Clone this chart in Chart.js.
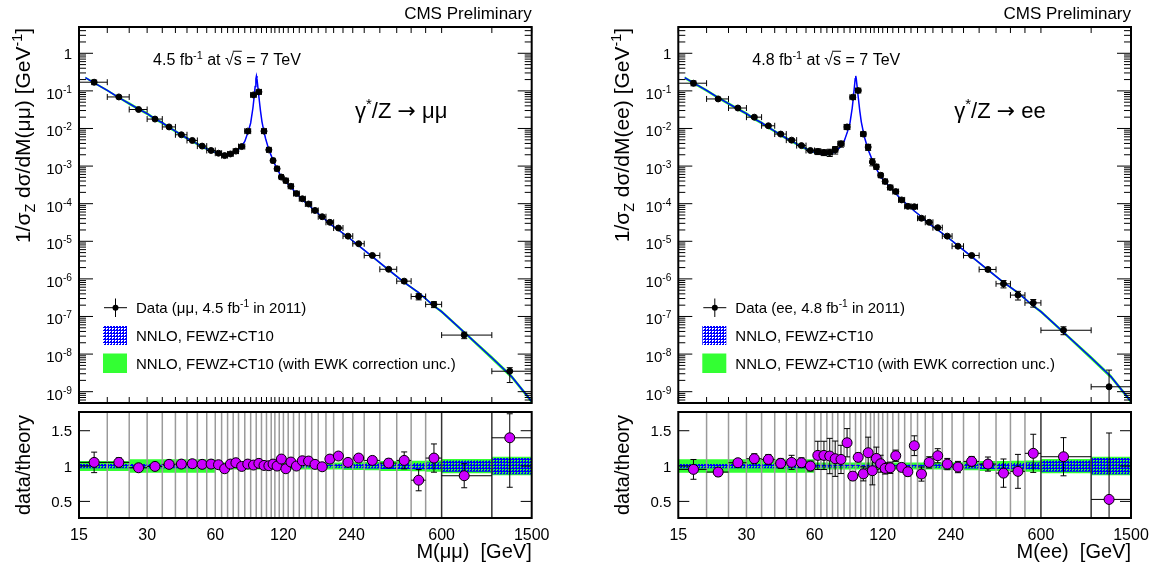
<!DOCTYPE html>
<html lang="en">
<head>
<meta charset="UTF-8">
<title>Drell-Yan mass spectrum, CMS 2011</title>
<script src="https://cdn.jsdelivr.net/npm/chart.js"></script>
<style>
  body { margin: 0; background: #fff; }
  #wrap { position: relative; width: 1158px; height: 570px; }
  #wrap canvas { position: absolute; left: 0; top: 0; }
</style>
</head>
<body>
<div id="wrap">
  <canvas id="muTop" width="1158" height="570"></canvas>
  <canvas id="muRatio" width="1158" height="570"></canvas>
  <canvas id="eeTop" width="1158" height="570"></canvas>
  <canvas id="eeRatio" width="1158" height="570"></canvas>
</div>
<script>
// mass bins (GeV) and where the points sit inside them
const binEdges = [15, 20, 25, 30, 35, 40, 45, 50, 55, 60, 64, 68, 72, 76, 81, 86, 91, 96, 101, 106, 110,
  115, 120, 126, 133, 141, 150, 160, 171, 185, 200, 220, 243, 273, 320, 380, 440, 510, 600, 1000, 1500];
const binMass = [17.5, 22.5, 27.5, 32.5, 37.5, 42.5, 47.5, 52.5, 57.5, 62, 66, 70, 74, 78.5, 83.5, 88.5, 93.5,
  98.5, 103.5, 108, 112.5, 117.5, 123, 129.5, 137, 145.5, 155, 165.5, 178, 192.5, 210, 231.5, 258, 296.5,
  350, 410, 475, 555, 755, 1200];

// NNLO FEWZ+CT10 curve
const theoryMass = [16, 17.5, 20, 22.5, 25, 27.5, 30, 32.5, 35, 37.5, 40, 42.5, 45, 47.5, 50, 52.5, 55, 57.5,
  60, 62, 66, 70, 74, 78, 81, 84, 86, 88, 89, 90, 90.7, 91.2, 91.7, 92.5, 93.5, 95, 96.5, 98, 100, 103.5,
  106, 108, 112.5, 117.5, 123, 129.5, 137, 145.5, 155, 165.5, 178, 192.5, 210, 231.5, 258, 296.5, 350,
  410, 475, 555, 600, 755, 1000, 1225, 1500];
const theoryValue = [0.225, 0.163, 0.103, 0.066, 0.046, 0.033, 0.025, 0.018, 0.0142, 0.0107, 0.0085, 0.0067,
  0.0055, 0.0046, 0.0039, 0.0033, 0.0029, 0.0025, 0.00232, 0.00215, 0.002, 0.00205, 0.0024, 0.0032, 0.0045,
  0.0085, 0.014, 0.035, 0.065, 0.13, 0.21, 0.25, 0.21, 0.13, 0.07, 0.03, 0.015, 0.0095, 0.0055, 0.0027,
  0.0019, 0.0014, 8.5e-4, 5.2e-4, 3.8e-4, 2.75e-4, 1.86e-4, 1.26e-4, 9.2e-5, 6.4e-5, 4.5e-5, 2.9e-5, 2.0e-5,
  1.3e-5, 7.7e-6, 3.9e-6, 1.73e-6, 8.1e-7, 4.3e-7, 1.9e-7, 1.35e-7, 3.8e-8, 8e-9, 2.5e-9, 5.5e-10];

// dimuon channel
const muData = [0.17, 0.069, 0.032, 0.0178, 0.011, 0.0068, 0.0048, 0.0034, 0.0026, 0.0022, 0.0019, 0.0021,
  0.0025, 0.0033, 0.0085, 0.078, 0.094, 0.0085, 0.0027, 0.0014, 8.5e-4, 5.1e-4, 4.1e-4, 2.9e-4, 1.86e-4,
  1.35e-4, 9.8e-5, 6.6e-5, 4.5e-5, 3.2e-5, 2.25e-5, 1.37e-5, 8.6e-6, 4.2e-6, 1.8e-6, 8.7e-7, 3.4e-7,
  2.1e-7, 3.2e-8, 3.5e-9];
const muRatio = [1.052, 1.052, 0.976, 0.995, 1.024, 1.028, 1.033, 1.024, 1.028, 1.019, 0.962, 1.028, 1.047,
  0.995, 1.028, 1.014, 1.038, 1.009, 1.005, 1.028, 1.0, 1.099, 0.962, 1.057, 1.0, 1.075, 1.071, 1.024, 0.99,
  1.099, 1.142, 1.052, 1.113, 1.08, 1.042, 1.08, 0.80, 1.113, 0.863, 1.40];
const muErrUp = [0.145, 0.065, 0.03, 0.025, 0.02, 0.02, 0.02, 0.02, 0.02, 0.02, 0.02, 0.02, 0.02, 0.02, 0.02,
  0.02, 0.02, 0.02, 0.02, 0.02, 0.02, 0.025, 0.025, 0.025, 0.025, 0.025, 0.03, 0.03, 0.03, 0.035, 0.04,
  0.05, 0.05, 0.05, 0.06, 0.12, 0.15, 0.2, 0.17, 0.34];
const muErrDown = [0.145, 0.065, 0.03, 0.025, 0.02, 0.02, 0.02, 0.02, 0.02, 0.02, 0.02, 0.02, 0.02, 0.02, 0.02,
  0.02, 0.02, 0.02, 0.02, 0.02, 0.02, 0.025, 0.025, 0.025, 0.025, 0.025, 0.03, 0.03, 0.03, 0.035, 0.04,
  0.05, 0.05, 0.05, 0.06, 0.12, 0.15, 0.2, 0.17, 0.70];
const muBandBlue = [0.03, 0.03, 0.03, 0.03, 0.03, 0.03, 0.03, 0.03, 0.03, 0.02, 0.02, 0.02, 0.02,
  0.02, 0.02, 0.02, 0.02, 0.02, 0.02, 0.02, 0.02, 0.02, 0.02, 0.02, 0.02, 0.02, 0.02, 0.02, 0.02, 0.02, 0.025,
  0.03, 0.03, 0.035, 0.04, 0.04, 0.045, 0.05, 0.08, 0.115];
const muBandGreen = [0.07, 0.07, 0.095, 0.095, 0.095, 0.095, 0.095, 0.095, 0.095, 0.05, 0.05, 0.05, 0.05,
  0.05, 0.05, 0.05, 0.05, 0.05, 0.05, 0.05, 0.05, 0.05, 0.05, 0.05, 0.05, 0.05, 0.05, 0.05,
  0.05, 0.05, 0.05, 0.055, 0.055, 0.06, 0.07, 0.07, 0.075, 0.08, 0.1, 0.13];

// dielectron channel
const eeData = [0.16, 0.061, 0.035, 0.020, 0.0118, 0.0071, 0.0049, 0.0035, 0.0026, 0.00245, 0.0023, 0.0023,
  0.0027, 0.0039, 0.011, 0.068, 0.102, 0.0071, 0.0032, 0.00129, 9.6e-4, 5.7e-4, 3.9e-4, 2.7e-4, 2.1e-4,
  1.26e-4, 8.5e-5, 8.3e-5, 4.1e-5, 3.2e-5, 2.3e-5, 1.37e-5, 7.4e-6, 4.2e-6, 1.78e-6, 7.4e-7, 3.7e-7,
  2.3e-7, 4.3e-8, 1.35e-9];
const eeRatio = [0.953, 0.915, 1.047, 1.104, 1.094, 1.038, 1.052, 1.047, 1.0, 1.151, 1.151, 1.142, 1.104,
  1.094, 1.33, 0.858, 1.123, 0.89, 1.189, 0.934, 1.108, 1.033, 0.967, 0.976, 1.146, 0.981, 0.92, 1.288,
  0.887, 1.052, 1.146, 1.028, 0.986, 1.066, 1.028, 0.90, 0.925, 1.18, 1.132, 0.528];
const eeErrUp = [0.14, 0.06, 0.04, 0.07, 0.07, 0.07, 0.1, 0.07, 0.07, 0.2, 0.2, 0.25, 0.25, 0.2, 0.2, 0.06,
  0.06, 0.1, 0.22, 0.2, 0.16, 0.12, 0.08, 0.08, 0.08, 0.05, 0.06, 0.14, 0.1, 0.08, 0.1, 0.08, 0.08, 0.07,
  0.1, 0.2, 0.24, 0.27, 0.27, 0.94];
const eeErrDown = eeErrUp;
const eeBandBlue = muBandBlue;
const eeBandGreen = [0.095, 0.095, 0.095, 0.095, 0.095, 0.095, 0.095, 0.095, 0.095, 0.05, 0.05, 0.05, 0.05,
  0.05, 0.05, 0.05, 0.05, 0.05, 0.05, 0.05, 0.05, 0.05, 0.05, 0.05, 0.05, 0.05, 0.05, 0.05, 0.05, 0.05, 0.05,
  0.055, 0.055, 0.06, 0.07, 0.07, 0.075, 0.08, 0.1, 0.13];

// axis labels
const xTickLabels = [15, 30, 60, 120, 240, 600, 1500];
const yExponents = [0, -1, -2, -3, -4, -5, -6, -7, -8, -9];
const ratioTicks = [0.5, 1, 1.5];

const FONT = '"Liberation Sans", Arial, Helvetica, sans-serif';
const SYMBOL_FONT = '"DejaVu Sans", sans-serif';
const GREEN = '#33ff33';
const MAGENTA = '#cc00ff';
Chart.defaults.font.family = FONT;

// blue grid with see-through holes, like ROOT fill style 3144-ish
function makeHatch() {
  const c = document.createElement('canvas');
  c.width = 6; c.height = 6;
  const g = c.getContext('2d');
  g.fillStyle = '#0000ff';
  for (let i = 0; i < 6; i++) {
    for (let j = 0; j < 6; j++) {
      if (i % 3 === 0 || j % 3 === 0 || (i % 3 === 2 && j % 3 === 2)) g.fillRect(i, j, 1, 1);
    }
  }
  return g.createPattern(c, 'repeat');
}
const HATCH = makeHatch();

// text with ^sup / _sub / ~overline / !symbol-font pieces
function rich(ctx, parts, x, y, size, align) {
  const seg = parts.map(p => {
    let mode = '';
    if ('^_~!'.includes(p[0]) && p.length > 1) { mode = p[0]; p = p.slice(1); }
    const fs = (mode === '^' || mode === '_') ? size * 0.68 : size;
    const font = fs + 'px ' + (mode === '!' ? SYMBOL_FONT : FONT);
    ctx.font = font;
    return { s: p, mode, font, w: ctx.measureText(p).width };
  });
  const total = seg.reduce((s, g) => s + g.w, 0);
  let cx = align === 'center' ? x - total / 2 : align === 'right' ? x - total : x;
  ctx.textAlign = 'left';
  ctx.textBaseline = 'alphabetic';
  seg.forEach(g => {
    ctx.font = g.font;
    const dy = g.mode === '^' ? -size * 0.4 : g.mode === '_' ? size * 0.22 : 0;
    ctx.fillText(g.s, cx, y + dy);
    if (g.mode === '~') {
      ctx.lineWidth = 1;
      ctx.beginPath();
      ctx.moveTo(cx - 1, y - size * 0.86);
      ctx.lineTo(cx + g.w, y - size * 0.86);
      ctx.stroke();
    }
    cx += g.w;
  });
}

function line(ctx, x1, y1, x2, y2) {
  ctx.beginPath(); ctx.moveTo(x1, y1); ctx.lineTo(x2, y2); ctx.stroke();
}

function binIndex(m) {
  for (let i = 0; i < binEdges.length - 1; i++) if (m < binEdges[i + 1]) return i;
  return binEdges.length - 2;
}

function stepBand(center, widths, sign) {
  const pts = [];
  widths.forEach((w, i) => {
    pts.push({ x: binEdges[i], y: center + sign * w });
    pts.push({ x: binEdges[i + 1], y: center + sign * w });
  });
  return pts;
}

function drawBars(chart, ds, caps) {
  const { ctx, chartArea: a, scales: { x, y } } = chart;
  ctx.save();
  ctx.beginPath();
  ctx.rect(a.left, a.top, a.right - a.left, a.bottom - a.top);
  ctx.clip();
  ctx.strokeStyle = '#000';
  ctx.lineWidth = 1;
  ds.data.forEach((p, i) => {
    const px = x.getPixelForValue(p.x), py = y.getPixelForValue(p.y);
    const xl = x.getPixelForValue(binEdges[i]), xr = x.getPixelForValue(binEdges[i + 1]);
    const yt = y.getPixelForValue(p.y + ds.errUp[i]);
    const low = p.y - ds.errDown[i];
    const yb = low > 0 || y.type !== 'logarithmic' ? y.getPixelForValue(low) : a.bottom + 50;
    line(ctx, xl, py, xr, py);
    line(ctx, px, yt, px, yb);
    line(ctx, px - 3, yt, px + 3, yt);
    line(ctx, px - 3, yb, px + 3, yb);
    if (caps) {
      line(ctx, xl, py - 3, xl, py + 3);
      line(ctx, xr, py - 3, xr, py + 3);
    }
  });
  ctx.restore();
}

function baseOptions(pad, yScale) {
  return {
    responsive: false,
    animation: false,
    events: [],
    layout: { padding: pad },
    plugins: { legend: { display: false }, tooltip: { enabled: false } },
    scales: {
      x: { type: 'logarithmic', min: 15, max: 1500, bounds: 'data', display: false },
      y: Object.assign({ bounds: 'data', display: false }, yScale)
    }
  };
}

function topDecor(cfg) {
  return {
    id: 'topDecor',
    beforeDatasetDraw(chart, args) {
      if (args.index === 0) drawBars(chart, chart.data.datasets[0], true);
    },
    afterDraw(chart) {
      const { ctx, chartArea: a, scales: { x, y } } = chart;
      ctx.save();
      ctx.strokeStyle = '#000';
      ctx.fillStyle = '#000';
      ctx.lineWidth = 1;
      for (let e = -10; e <= 0; e++) {
        for (let k = 1; k <= 9; k++) {
          const v = k * Math.pow(10, e);
          if (v < y.min || v > y.max) continue;
          const py = y.getPixelForValue(v), len = k === 1 ? 14 : 7;
          line(ctx, a.left, py, a.left + len, py);
          line(ctx, a.right - len, py, a.right, py);
        }
      }
      binEdges.forEach(e => {
        const px = x.getPixelForValue(e);
        line(ctx, px, a.top, px, a.top + 6);
        line(ctx, px, a.bottom - 6, px, a.bottom);
      });
      ctx.lineWidth = 2;
      ctx.strokeRect(a.left, a.top, a.right - a.left, a.bottom - a.top);

      yExponents.forEach(e => {
        const py = y.getPixelForValue(Math.pow(10, e));
        if (e === 0) rich(ctx, ['1'], a.left - 7, py + 6, 15, 'right');
        else rich(ctx, ['10', '^' + e], a.left - 7, py + 8, 15, 'right');
      });

      ctx.save();
      ctx.translate(a.left - 49, a.top + 1);
      ctx.rotate(-Math.PI / 2);
      rich(ctx, cfg.yTitle, 0, 0, 21, 'right');
      ctx.restore();

      rich(ctx, ['CMS Preliminary'], a.right, 19, 17, 'right');
      rich(ctx, cfg.lumi, a.left + 148, 65, 16, 'center');
      rich(ctx, cfg.process, a.left + 276, 118, 22, 'left');

      // legend
      const L = a.left;
      ctx.lineWidth = 1;
      line(ctx, L + 25, 307.7, L + 48, 307.7);
      line(ctx, L + 36.5, 298.5, L + 36.5, 317);
      ctx.beginPath();
      ctx.arc(L + 36.5, 307.7, 3, 0, Math.PI * 2);
      ctx.fill();
      rich(ctx, cfg.legend[0], L + 57, 313, 15, 'left');
      ctx.fillStyle = HATCH;
      ctx.fillRect(L + 24, 326, 24, 19);
      ctx.fillStyle = '#000';
      rich(ctx, cfg.legend[1], L + 57, 341, 15, 'left');
      ctx.fillStyle = GREEN;
      ctx.fillRect(L + 24, 353.5, 24, 19.5);
      ctx.fillStyle = '#000';
      rich(ctx, cfg.legend[2], L + 57, 368.5, 15, 'left');
      ctx.restore();
    }
  };
}

function ratioDecor(cfg) {
  return {
    id: 'ratioDecor',
    beforeDatasetDraw(chart, args) {
      if (args.index !== 0) return;
      const { ctx, chartArea: a, scales: { x } } = chart;
      ctx.save();
      ctx.lineWidth = 1.5;
      binEdges.slice(1, -1).forEach(e => {
        const px = x.getPixelForValue(e);
        ctx.strokeStyle = e >= 600 ? '#333' : '#9a9a9a';
        line(ctx, px, a.top, px, a.bottom);
      });
      ctx.restore();
      drawBars(chart, chart.data.datasets[0], false);
    },
    afterDraw(chart) {
      const { ctx, chartArea: a, scales: { x, y } } = chart;
      ctx.save();
      ctx.strokeStyle = '#000';
      ctx.fillStyle = '#000';
      ctx.lineWidth = 1;
      ratioTicks.forEach(v => {
        const py = y.getPixelForValue(v);
        line(ctx, a.left, py, a.left + 11, py);
        line(ctx, a.right - 11, py, a.right, py);
        rich(ctx, [String(v)], a.left - 7, py + 5.5, 15, 'right');
      });
      ctx.lineWidth = 2;
      ctx.strokeRect(a.left, a.top, a.right - a.left, a.bottom - a.top);
      xTickLabels.forEach(v => rich(ctx, [String(v)], x.getPixelForValue(v), a.bottom + 22, 16, 'center'));
      rich(ctx, cfg.xTitle, a.right, 558, 20, 'right');
      ctx.save();
      ctx.translate(a.left - 49, (a.top + a.bottom) / 2);
      ctx.rotate(-Math.PI / 2);
      rich(ctx, ['data/theory'], 0, 0, 20, 'center');
      ctx.restore();
      ctx.restore();
    }
  };
}

function makeTop(id, cfg) {
  const pts = binMass.map((m, i) => ({ x: m, y: cfg.data[i] }));
  const up = cfg.data.map((v, i) => v * cfg.errUp[i] / cfg.ratio[i]);
  const dn = cfg.data.map((v, i) => v * cfg.errDown[i] / cfg.ratio[i]);
  const curve = theoryMass.map((m, i) => ({ x: m, y: theoryValue[i] }));
  const hi = theoryMass.map((m, i) => ({ x: m, y: theoryValue[i] * (1 + cfg.green[binIndex(m)]) }));
  const lo = theoryMass.map((m, i) => ({ x: m, y: theoryValue[i] * (1 - cfg.green[binIndex(m)]) }));
  new Chart(document.getElementById(id), {
    type: 'scatter',
    data: {
      datasets: [
        { data: pts, pointRadius: 3, pointBackgroundColor: '#000', pointBorderColor: '#000', errUp: up, errDown: dn },
        { type: 'line', data: curve, borderColor: '#0000ff', borderWidth: 1.5, pointRadius: 0, fill: false },
        { type: 'line', data: hi, borderColor: 'transparent', pointRadius: 0, fill: '+1', backgroundColor: GREEN },
        { type: 'line', data: lo, borderColor: 'transparent', pointRadius: 0, fill: false }
      ]
    },
    options: baseOptions(cfg.padTop, { type: 'logarithmic', min: 5e-10, max: 5 }),
    plugins: [topDecor(cfg)]
  });
}

function makeRatio(id, cfg) {
  const pts = binMass.map((m, i) => ({ x: m, y: cfg.ratio[i] }));
  new Chart(document.getElementById(id), {
    type: 'scatter',
    data: {
      datasets: [
        { data: pts, pointRadius: 5, pointBackgroundColor: MAGENTA, pointBorderColor: '#000', pointBorderWidth: 1,
          errUp: cfg.errUp, errDown: cfg.errDown },
        { type: 'line', data: stepBand(1, cfg.blue, 1), borderColor: 'transparent', pointRadius: 0, fill: '+1', backgroundColor: HATCH },
        { type: 'line', data: stepBand(1, cfg.blue, -1), borderColor: 'transparent', pointRadius: 0, fill: false },
        { type: 'line', data: stepBand(1, cfg.green, 1), borderColor: 'transparent', pointRadius: 0, fill: '+1', backgroundColor: GREEN },
        { type: 'line', data: stepBand(1, cfg.green, -1), borderColor: 'transparent', pointRadius: 0, fill: false }
      ]
    },
    options: baseOptions(cfg.padRatio, { type: 'linear', min: 0.265, max: 1.765 }),
    plugins: [ratioDecor(cfg)]
  });
}

const mu = {
  data: muData, ratio: muRatio, errUp: muErrUp, errDown: muErrDown, blue: muBandBlue, green: muBandGreen,
  padTop: { left: 79, right: 1158 - 531.7, top: 27, bottom: 570 - 403 },
  padRatio: { left: 79, right: 1158 - 531.7, top: 412, bottom: 570 - 518 },
  yTitle: ['1/σ', '_Z', ' dσ/dM(μμ) [GeV', '^-1', ']'],
  xTitle: ['M(μμ)  [GeV]'],
  lumi: ['4.5 fb', '^-1', ' at ', '√', '~s', ' = 7 TeV'],
  process: ['γ', '^*', '/Z ', '!→', ' μμ'],
  legend: [['Data (μμ, 4.5 fb', '^-1', ' in 2011)'], ['NNLO, FEWZ+CT10'], ['NNLO, FEWZ+CT10 (with EWK correction unc.)']]
};
const ee = {
  data: eeData, ratio: eeRatio, errUp: eeErrUp, errDown: eeErrDown, blue: eeBandBlue, green: eeBandGreen,
  padTop: { left: 678.3, right: 1158 - 1131, top: 27, bottom: 570 - 403 },
  padRatio: { left: 678.3, right: 1158 - 1131, top: 412, bottom: 570 - 518 },
  yTitle: ['1/σ', '_Z', ' dσ/dM(ee) [GeV', '^-1', ']'],
  xTitle: ['M(ee)  [GeV]'],
  lumi: ['4.8 fb', '^-1', ' at ', '√', '~s', ' = 7 TeV'],
  process: ['γ', '^*', '/Z ', '!→', ' ee'],
  legend: [['Data (ee, 4.8 fb', '^-1', ' in 2011)'], ['NNLO, FEWZ+CT10'], ['NNLO, FEWZ+CT10 (with EWK correction unc.)']]
};

makeTop('muTop', mu);
makeRatio('muRatio', mu);
makeTop('eeTop', ee);
makeRatio('eeRatio', ee);
</script>
</body>
</html>
